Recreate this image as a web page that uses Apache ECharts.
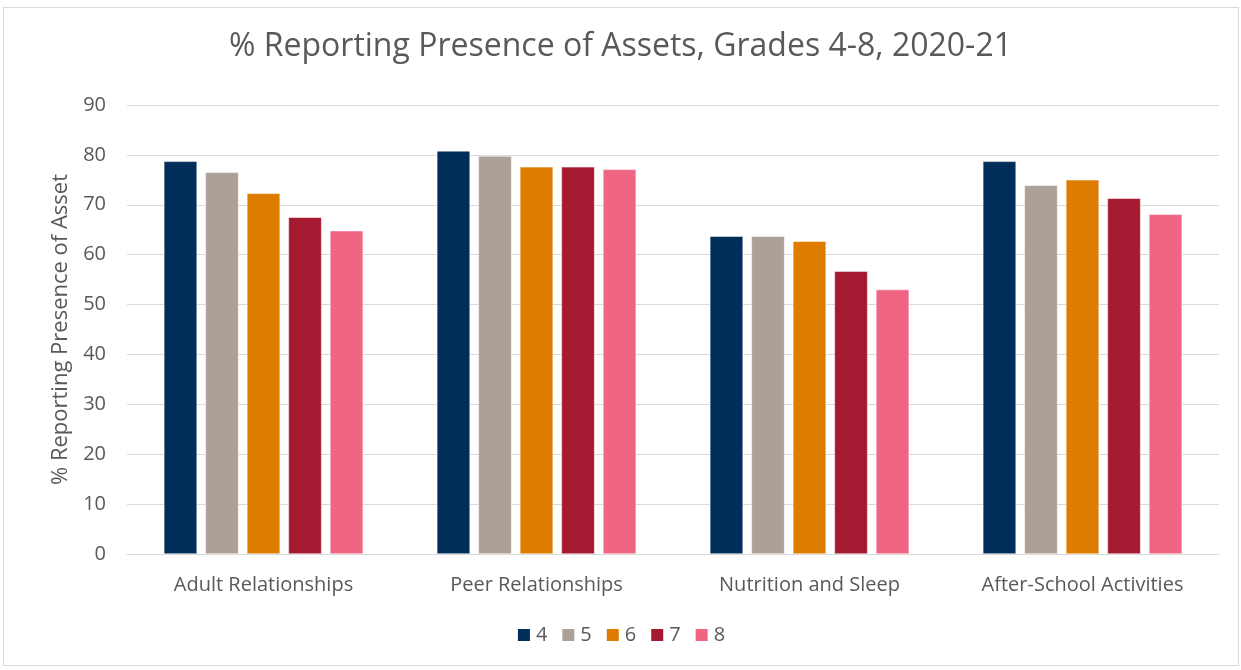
<!DOCTYPE html>
<html>
<head>
<meta charset="utf-8">
<script src="https://cdn.jsdelivr.net/npm/echarts@6/dist/echarts.min.js"></script>
<style>
  html, body { margin: 0; padding: 0; background: #fff; }
  #frame {
    position: absolute; left: 3px; top: 7px;
    width: 1236px; height: 659px;
    border: 1px solid #d9d9d9; box-sizing: border-box;
  }
  #main { position: absolute; left: 0; top: 0; width: 1241px; height: 670px; }
</style>
</head>
<body>
<div id="frame"></div>
<div id="main"></div>
<script>
// categories + grades
const categories = ['Adult Relationships', 'Peer Relationships', 'Nutrition and Sleep', 'After-School Activities']
const grades = ['4', '5', '6', '7', '8']

// % reporting presence of asset, per grade (one value per category)
const grade4 = [78.7, 80.8, 63.7, 78.7]
const grade5 = [76.5, 79.8, 63.7, 73.9]
const grade6 = [72.3, 77.6, 62.7, 75.0]
const grade7 = [67.5, 77.6, 56.7, 71.3]
const grade8 = [64.8, 77.1, 53.0, 68.1]

const colors = ['#002D5A', '#ADA197', '#DE7C00', '#A51931', '#F06584']
const font = '"Open Sans", Lato, sans-serif'

const myChart = echarts.init(document.getElementById('main'))
const values = [grade4, grade5, grade6, grade7, grade8]

const option = {
  animation: false,
  color: colors,
  title: {
    text: '% Reporting Presence of Assets, Grades 4-8, 2020-21',
    left: 'center',
    top: 26,
    textStyle: { fontFamily: font, fontSize: 32, fontWeight: 'normal', color: '#595959' }
  },
  legend: {
    data: grades,
    bottom: 20,
    left: 'center',
    itemWidth: 14,
    itemHeight: 14,
    itemGap: 13,
    icon: 'rect',
    textStyle: { fontFamily: font, fontSize: 20, color: '#595959' }
  },
  grid: { left: 127, right: 22, top: 105, bottom: 116 },
  xAxis: {
    type: 'category',
    data: categories,
    axisLine: { lineStyle: { color: '#d9d9d9', width: 1 } },
    axisTick: { show: false },
    axisLabel: { fontFamily: font, fontSize: 20, color: '#595959', margin: 21 }
  },
  yAxis: {
    type: 'value',
    min: 0,
    max: 90,
    interval: 10,
    name: '% Reporting Presence of Asset',
    nameLocation: 'middle',
    nameGap: 52,
    nameTextStyle: { fontFamily: font, fontSize: 22, color: '#595959' },
    axisLine: { show: false },
    axisTick: { show: false },
    axisLabel: { fontFamily: font, fontSize: 20, color: '#595959', margin: 21 },
    splitLine: { lineStyle: { color: '#d9d9d9', width: 1 } }
  },
  series: grades.map((g, i) => ({
    name: g,
    type: 'bar',
    data: values[i],
    barGap: '25%',
    barCategoryGap: '27%',
    itemStyle: { borderColor: '#ffffff', borderWidth: 0.5 }
  }))
}

myChart.setOption(option)
</script>
</body>
</html>
